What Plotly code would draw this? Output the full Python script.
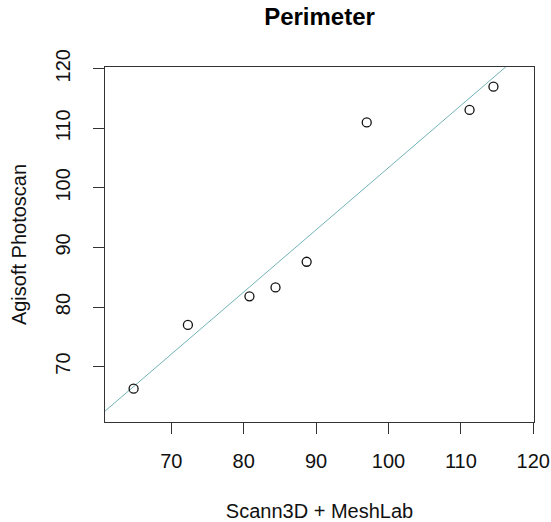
import numpy as np
import plotly.graph_objects as go

# Data
scann3d_meshlab = [64.8, 72.3, 80.8, 84.4, 88.7, 97.0, 111.2, 114.5]
agisoft_photoscan = [66.3, 77.0, 81.8, 83.3, 87.6, 111.0, 113.1, 117.0]
x_ticks = [70, 80, 90, 100, 110, 120]
y_ticks = [70, 80, 90, 100, 110, 120]

x_range = [60.85, 120.1]
y_range = [60.7, 120.3]

# Least squares regression line (abline(lm(y ~ x)))
slope, intercept = np.polyfit(scann3d_meshlab, agisoft_photoscan, 1)
line_x = np.array(x_range)
line_y = intercept + slope * line_x

font_family = "Liberation Sans, Arial, sans-serif"

fig = go.Figure()
fig.add_trace(go.Scatter(
    x=line_x, y=line_y, mode="lines",
    line=dict(color="#72b3b7", width=1),
    hoverinfo="skip", showlegend=False,
))
fig.add_trace(go.Scatter(
    x=scann3d_meshlab, y=agisoft_photoscan, mode="markers",
    marker=dict(symbol="circle-open", size=9, color="#111111",
                line=dict(width=1.3, color="#111111")),
    showlegend=False,
))

fig.update_layout(
    width=551, height=522,
    margin=dict(l=105, r=17, t=67, b=100, autoexpand=False),
    paper_bgcolor="white", plot_bgcolor="white",
    font=dict(family=font_family, size=20, color="#111111"),
    title=dict(text="<b>Perimeter</b>", x=0.5, xref="paper",
               y=1 - 17 / 522, yref="container", yanchor="middle",
               font=dict(size=24, color="#000000")),
)
fig.update_xaxes(
    range=x_range, tickvals=x_ticks, ticktext=[str(v) for v in x_ticks],
    showgrid=False, zeroline=False, automargin=False,
    showline=True, linecolor="#333333", linewidth=1, mirror=True,
    ticks="outside", ticklen=11, tickcolor="#333333", tickwidth=1,
    ticklabelstandoff=10,
    title=dict(text="Scann3D + MeshLab", standoff=32,
               font=dict(size=20)),
)
fig.update_yaxes(
    range=y_range, tickvals=y_ticks, ticktext=[str(v) for v in y_ticks],
    showgrid=False, zeroline=False, automargin=False,
    showline=True, linecolor="#333333", linewidth=1, mirror=True,
    ticks="outside", ticklen=11, tickcolor="#333333", tickwidth=1,
    tickangle=-90, ticklabelstandoff=15,
    title=dict(text="Agisoft Photoscan", standoff=20,
               font=dict(size=20)),
)

fig.write_html("out.html")
